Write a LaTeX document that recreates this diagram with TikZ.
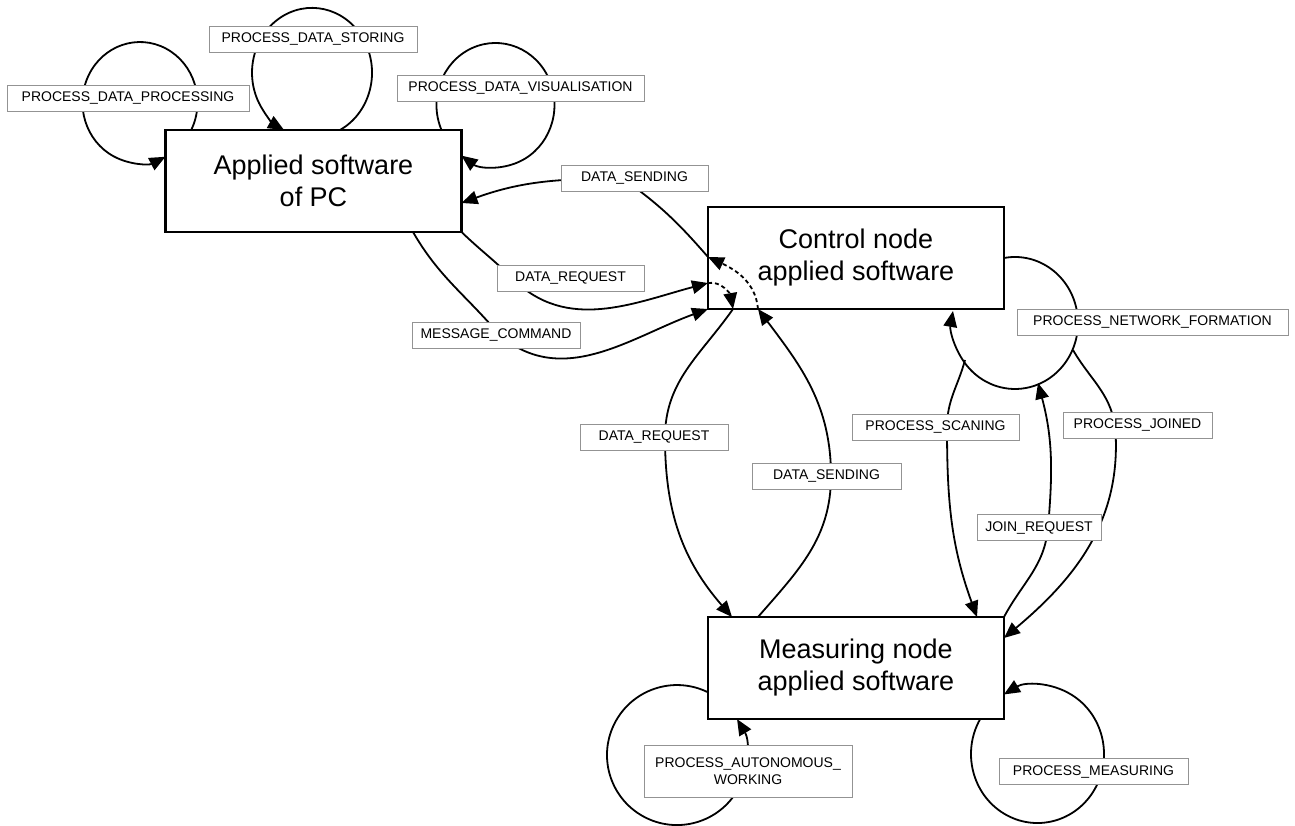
\documentclass[tikz,border=0pt]{standalone}
\usepackage{fontspec}
\setmainfont{Liberation Sans}
\usetikzlibrary{arrows.meta}
\pgfdeclarelayer{edgelayer}
\pgfdeclarelayer{nodelayer}
\pgfsetlayers{edgelayer,nodelayer,main}

\begin{document}
\begin{tikzpicture}[x=1pt,y=1pt,
box/.style={draw,line width=2.4pt,outer sep=0pt,minimum width=296pt,minimum height=102pt,align=center,font=\fontsize{27}{32}\selectfont},
lbl/.style={draw=gray!85,line width=0.8pt,fill=white,inner sep=0pt,minimum height=26pt,minimum width=#1,font=\fontsize{14}{17.5}\selectfont},
arr/.style={line width=1.8pt,-{Triangle[length=16pt,width=13.5pt]}},
dsh/.style={arr,dash pattern=on 4pt off 3pt}]
\useasboundingbox (0,0) rectangle (1295,-826);
\node[box] (PC) at (313.5,-181) {Applied software\\of PC};
\node[box] (CN) at (856,-258) {Control node\\applied software};
\node[box] (MN) at (856,-668) {Measuring node\\applied software};
\node[lbl=242pt] (DP) at (128,-98) {PROCESS\_DATA\_PROCESSING};
\node[lbl=208pt] (DS) at (313,-39) {PROCESS\_DATA\_STORING};
\node[lbl=247pt] (DV) at (520.5,-88) {PROCESS\_DATA\_VISUALISATION};
\node[lbl=147pt] (S1) at (634.5,-178.5) {DATA\_SENDING};
\node[lbl=147pt] (R1) at (570.5,-278.5) {DATA\_REQUEST};
\node[lbl=168pt] (MC) at (496,-335.5) {MESSAGE\_COMMAND};
\node[lbl=148pt] (R2) at (654,-437.5) {DATA\_REQUEST};
\node[lbl=149pt] (S2) at (826.5,-476) {DATA\_SENDING};
\node[lbl=271pt] (NF) at (1152.5,-322) {PROCESS\_NETWORK\_FORMATION};
\node[lbl=167pt] (SC) at (935.5,-427) {PROCESS\_SCANING};
\node[lbl=149pt] (JN) at (1137.5,-425) {PROCESS\_JOINED};
\node[lbl=124pt] (JR) at (1039,-527.5) {JOIN\_REQUEST};
\node[lbl=208pt,minimum height=52pt,align=center] (AW) at (748,-771) {PROCESS\_AUTONOMOUS\_\\WORKING};
\node[lbl=189pt] (ME) at (1093.5,-771.5) {PROCESS\_MEASURING};
\coordinate (SC0) at (965,-360);
\coordinate (JR1) at (1038,-383);
\coordinate (JN0) at (1073,-350);
\begin{pgfonlayer}{edgelayer}
\draw[arr] ([xshift=25.7pt]PC.north west) arc[start angle=-27,end angle=296.3,x radius=57.5,y radius=60.5];
\draw[arr] ([xshift=26.5pt]PC.north) arc[start angle=-62.2,end angle=242.2,x radius=60,y radius=64.8];
\draw[arr] ([xshift=-20pt]PC.north east) arc[start angle=203.8,end angle=-125.2,x radius=59,y radius=62];
\draw[arr] (CN.east) arc[start angle=100,end angle=-190.5,x radius=63,y radius=66];
\draw[arr] ([yshift=-24.3pt]MN.west) arc[start angle=63.7,end angle=390.9,radius=70];
\draw[arr] ([xshift=-23.8pt]MN.south east) arc[start angle=149.5,end angle=480.3,x radius=66.5,y radius=69];
\draw[arr] ([yshift=1pt]CN.west) to[out=131,in=-35] ([xshift=-12pt]S1.center) to[out=180,in=20] ([yshift=-22pt]PC.east);
\draw[arr] (PC.south east) to[out=-44,in=135] ([xshift=-58pt]R1.center) to[out=-45,in=195] ([yshift=-25pt]CN.west);
\draw[dsh] ([yshift=-25pt]CN.west) to[out=10,in=100] ([xshift=25pt]CN.south west);
\draw[arr] ([xshift=25pt]CN.south west) to[out=235,in=90] ([xshift=11pt]R2.center) to[out=-90,in=131] ([xshift=24pt]MN.north west);
\draw[arr] ([xshift=50pt]MN.north west) to[out=49,in=-90] ([xshift=4.5pt]S2.center) to[out=90,in=-53] ([xshift=50pt]CN.south west);
\draw[dsh] ([xshift=50pt]CN.south west) to[out=95,in=-25] ([yshift=1pt]CN.west);
\draw[arr] ([xshift=-48.5pt]PC.south east) to[out=-60,in=130] ([xshift=4pt]MC.center) to[out=-40,in=200] (CN.south west);
\draw[arr] (SC0) to[out=-105,in=90] ([xshift=11.5pt]SC.center) to[out=-90,in=110] ([xshift=-27pt]MN.north east);
\draw[arr] (MN.north east) to[out=62,in=-95] ([xshift=9pt]JR.center) to[out=85,in=-75] (JR1);
\draw[arr] (JN0) to[out=-60,in=100] ([xshift=-22.5pt]JN.center) to[out=-85,in=40] ([yshift=-21pt]MN.north east);
\end{pgfonlayer}
\end{tikzpicture}
\end{document}
